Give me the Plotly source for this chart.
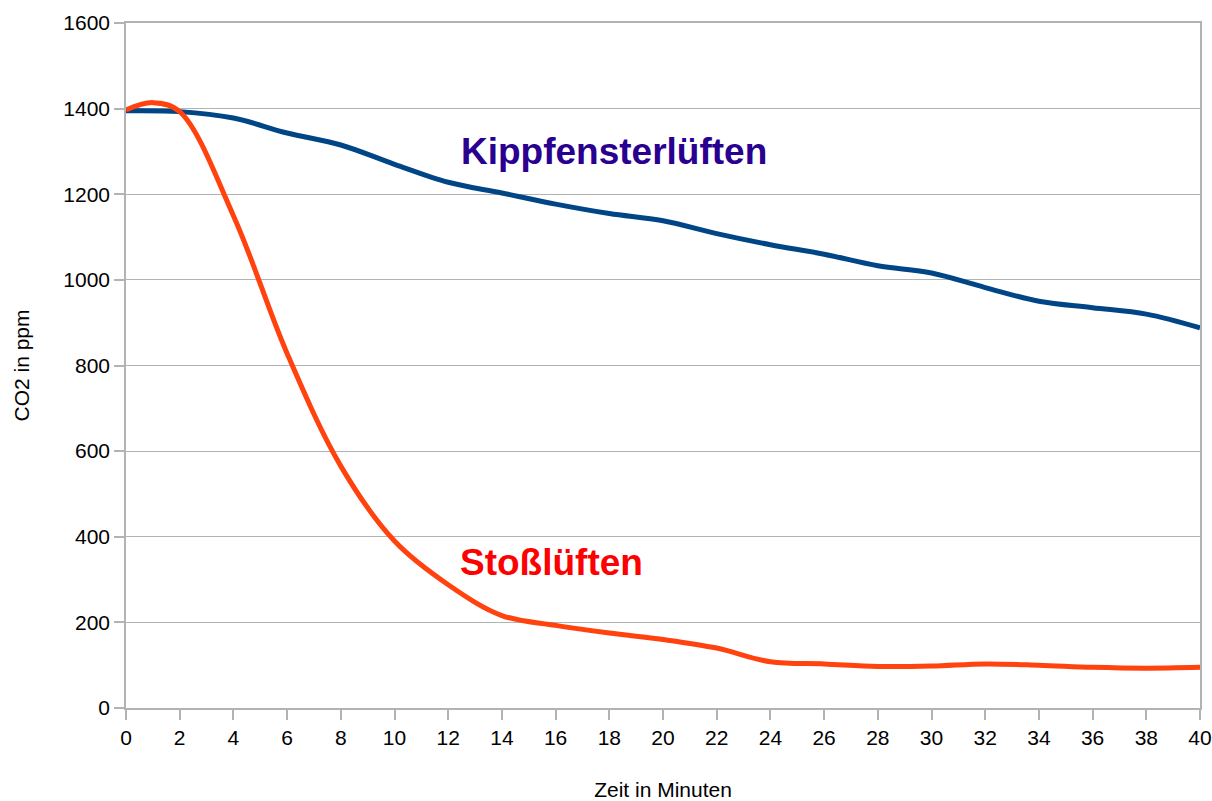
import plotly.graph_objects as go

minutes_kipp = [0, 2, 4, 6, 8, 10, 12, 14, 16, 18, 20, 22, 24, 26, 28, 30, 32, 34, 36, 38, 40]
co2_kipp = [1395, 1393, 1378, 1343, 1315, 1270, 1228, 1203, 1177, 1155, 1138, 1108, 1082, 1060,
            1033, 1016, 982, 950, 935, 920, 888]

minutes_stoss = [0, 1, 2, 4, 6, 8, 10, 12, 14, 16, 18, 20, 22, 24, 26, 28, 30, 32, 34, 36, 38, 40]
co2_stoss = [1397, 1414, 1393, 1150, 828, 565, 390, 288, 216, 193, 175, 160, 140, 108, 103, 97,
             98, 103, 100, 95, 93, 95]

x_ticks = list(range(0, 41, 2))
y_ticks = list(range(0, 1601, 200))

label_kipp = "Kippfensterlüften"
label_stoss = "Stoßlüften"

font_family = "Liberation Sans, Arial, sans-serif"
grid = "#b3b3b3"

fig = go.Figure()
fig.add_trace(go.Scatter(x=minutes_kipp, y=co2_kipp, mode="lines",
                         line=dict(color="#004586", width=5, shape="spline", smoothing=1.0),
                         name=label_kipp, showlegend=False))
fig.add_trace(go.Scatter(x=minutes_stoss, y=co2_stoss, mode="lines",
                         line=dict(color="#ff420e", width=5, shape="spline", smoothing=1.0),
                         name=label_stoss, showlegend=False))

fig.add_annotation(x=18.17, y=1299, text="<b>" + label_kipp + "</b>", showarrow=False,
                   font=dict(family=font_family, size=37, color="#2a0090"))
fig.add_annotation(x=15.83, y=341, text="<b>" + label_stoss + "</b>", showarrow=False,
                   font=dict(family=font_family, size=37, color="#ff0000"))

fig.update_layout(
    width=1212, height=801,
    margin=dict(l=126, r=12, t=23, b=93),
    plot_bgcolor="white", paper_bgcolor="white",
    font=dict(family=font_family, size=21, color="black"),
    xaxis=dict(range=[0, 40], tickvals=x_ticks, showgrid=False, zeroline=False,
               showline=True, linecolor=grid, linewidth=1.5, mirror=True,
               ticks="outside", ticklen=10, tickcolor=grid, tickwidth=1.5,
               automargin=False, ticklabeloverflow="allow",
               title=dict(text="Zeit in Minuten", standoff=36, font=dict(size=21)),
               tickfont=dict(size=21)),
    yaxis=dict(range=[0, 1600], tickvals=y_ticks, showgrid=True, gridcolor=grid, gridwidth=1,
               zeroline=False, showline=True, linecolor=grid, linewidth=1.5, mirror=True,
               ticks="outside", ticklen=10, tickcolor=grid, tickwidth=1.5,
               automargin=False,
               title=dict(text="CO2 in ppm", standoff=28, font=dict(size=21)),
               tickfont=dict(size=21)),
)

fig.write_html(
    "out.html",
    config={"displayModeBar": False},
    post_script=(
        "document.documentElement.style.overflow='hidden';"
        "document.body.style.margin='0';"
        "var d=document.getElementById('{plot_id}');"
        "d.style.position='fixed';d.style.left='0px';d.style.top='0px';"
    ),
)
